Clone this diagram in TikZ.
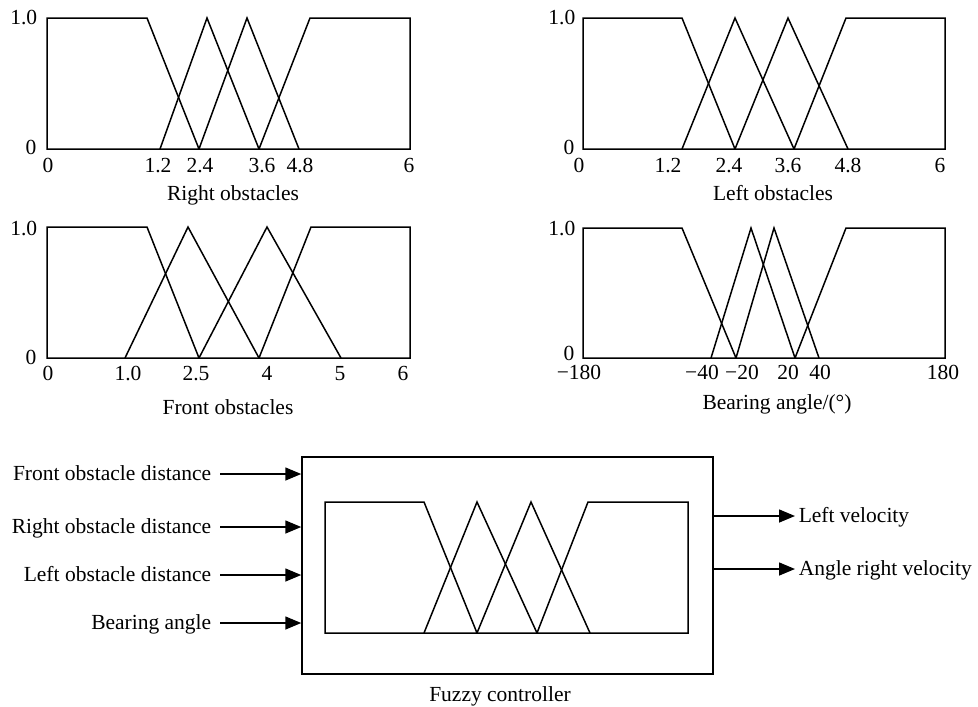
\documentclass[tikz,border=0pt]{standalone}
\usepackage{fontspec}
\setmainfont{Liberation Serif}
\usetikzlibrary{arrows.meta}

\begin{document}
\begin{tikzpicture}[x=1pt, y=-1pt, line width=1.5pt,
    font=\fontsize{21.5}{26}\selectfont,
    tick/.style={anchor=base, inner sep=0pt},
    axlbl/.style={anchor=base east, inner sep=0pt},
    inlbl/.style={anchor=east, inner xsep=8pt, inner ysep=0pt, text height=15pt, text depth=3pt},
    outlbl/.style={anchor=west, inner xsep=3pt, inner ysep=0pt, text height=15pt, text depth=3pt},
    arr/.style={-{Triangle[length=16pt,width=13pt]}}]
    \useasboundingbox (0,0) rectangle (978,707);

    % Right obstacles (top left)
    \draw (199,149) -- (147,18) -- (47,18) -- (47,149) -- (410,149) -- (410,18) -- (310,18) -- (259,149);
    \draw (160,149) -- (207,18) -- (259,149);
    \draw (199,149) -- (247,18) -- (299,149);
    \node[axlbl] (r1) at (38,24) {1.0};
    \node[axlbl] (r0) at (37,154) {0};
    \foreach \x/\t [count=\i] in {48/0,158/1.2,200/2.4,262/3.6,300/4.8,409/6}
        \node[tick] (rt\i) at (\x,172) {\t};
    \node[tick] (rname) at (233,200) {Right obstacles};

    % Left obstacles (top right)
    \draw (735,149) -- (682,18) -- (583,18) -- (583,149) -- (945,149) -- (945,18) -- (846,18) -- (794,149);
    \draw (682,149) -- (735,18) -- (794,149);
    \draw (735,149) -- (788,18) -- (848,149);
    \node[axlbl] (l1) at (576,24) {1.0};
    \node[axlbl] (l0) at (575,154) {0};
    \foreach \x/\t [count=\i] in {579/0,668/1.2,729/2.4,788/3.6,848/4.8,940/6}
        \node[tick] (lt\i) at (\x,172) {\t};
    \node[tick] (lname) at (773,200) {Left obstacles};

    % Front obstacles (middle left)
    \draw (199,358) -- (147,227) -- (47,227) -- (47,358) -- (410,358) -- (410,227) -- (311,227) -- (259,358);
    \draw (125,358) -- (188,227) -- (259,358);
    \draw (199,358) -- (267,227) -- (341,358);
    \node[axlbl] (f1) at (38,235) {1.0};
    \node[axlbl] (f0) at (37,364) {0};
    \foreach \x/\t [count=\i] in {48/0,128/1.0,196/2.5,267/4,340/5,403/6}
        \node[tick] (ft\i) at (\x,380) {\t};
    \node[tick] (fname) at (228,414) {Front obstacles};

    % Bearing angle (middle right)
    \draw (736,358) -- (682,228) -- (583,228) -- (583,358) -- (945,358) -- (945,228) -- (846,228) -- (795,358);
    \draw (711,358) -- (751,228) -- (795,358);
    \draw (736,358) -- (774,228) -- (819,358);
    \node[axlbl] (b1) at (576,235) {1.0};
    \node[axlbl] (b0) at (575,360) {0};
    \foreach \x/\t [count=\i] in {579/−180,702/−40,742/−20,788/20,820/40,943/180}
        \node[tick] (bt\i) at (\x,379) {\t};
    \node[tick] (bname) at (777,409) {Bearing angle/(°)};

    % Fuzzy controller block
    \node[draw, minimum width=411pt, minimum height=217pt, inner sep=0pt] (ctrl) at (507.5,565.5) {};
    \draw (477,633) -- (424,502) -- (325,502) -- (325,633) -- (688,633) -- (688,502) -- (588,502) -- (537,633);
    \draw (424,633) -- (477,502) -- (537,633);
    \draw (477,633) -- (531,502) -- (590,633);
    \node[tick] (fc) at (500,701) {Fuzzy controller};

    % Inputs
    \node[inlbl] (fod) at (220,474) {Front obstacle distance};
    \node[inlbl] (rod) at (220,527) {Right obstacle distance};
    \node[inlbl] (lod) at (220,575) {Left obstacle distance};
    \node[inlbl] (ba) at (220,623) {Bearing angle};
    \foreach \n in {fod,rod,lod,ba}
        \draw[arr] (\n) -- (\n -| ctrl.west);

    % Outputs
    \node[outlbl] (lv) at (795,516) {Left velocity};
    \node[outlbl] (arv) at (795,569) {Angle right velocity};
    \foreach \n in {lv,arv}
        \draw[arr] (ctrl.east |- \n) -- (\n);
\end{tikzpicture}
\end{document}
